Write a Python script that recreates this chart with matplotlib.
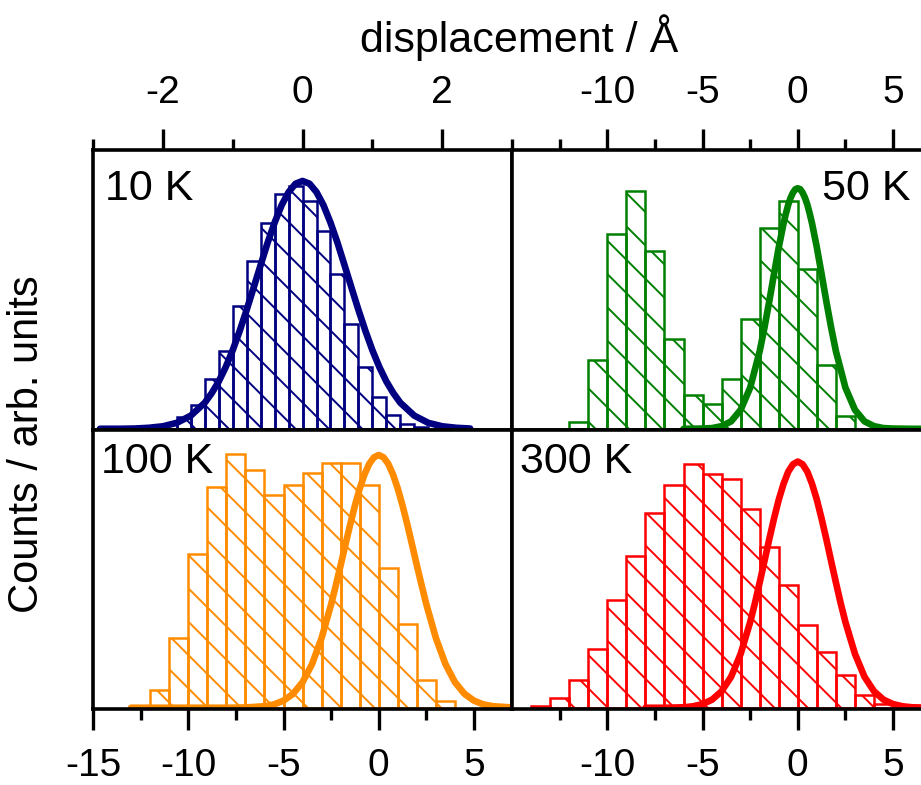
import matplotlib
matplotlib.use("Agg")
import matplotlib.pyplot as plt

plt.rcParams['font.family'] = ['Liberation Sans', 'DejaVu Sans']
plt.rcParams['axes.unicode_minus'] = False
plt.rcParams['hatch.linewidth'] = 1.4

# --- histogram data (bin left edges, heights normalised to fit peak) ---
edges_10K = [-2.0, -1.8, -1.6, -1.4, -1.2, -1.0, -0.8, -0.6, -0.4, -0.2,
             0.0, 0.2, 0.4, 0.6, 0.8, 1.0, 1.2, 1.4, 1.6]
counts_10K = [0.02, 0.047, 0.094, 0.20, 0.315, 0.497, 0.678, 0.832, 0.946, 0.98,
              0.92, 0.80, 0.624, 0.423, 0.248, 0.128, 0.054, 0.02, 0.007]

edges_50K = [-12, -11, -10, -9, -8, -7, -6, -5, -4, -3, -2, -1, 0, 1, 2]
counts_50K = [0.029, 0.287, 0.811, 0.99, 0.738, 0.374, 0.142, 0.105, 0.208,
              0.457, 0.834, 0.945, 0.666, 0.266, 0.052]

edges_100K = [-13, -12, -11, -10, -9, -8, -7, -6, -5, -4, -3, -2, -1, 0, 1, 2, 3]
counts_100K = [0.004, 0.072, 0.276, 0.608, 0.873, 1.004, 0.939, 0.843, 0.882,
               0.929, 0.967, 0.967, 0.88, 0.553, 0.333, 0.111, 0.027]

edges_300K = [-14, -13, -12, -11, -10, -9, -8, -7, -6, -5, -4, -3, -2, -1, 0, 1, 2, 3, 4]
counts_300K = [0.007, 0.040, 0.111, 0.239, 0.436, 0.615, 0.793, 0.906, 0.99, 0.95,
               0.93, 0.809, 0.651, 0.498, 0.336, 0.226, 0.132, 0.051, 0.015]

# --- fitted curves ---
fit_x_10K = [-2.9, -2.6, -2.4, -2.2, -2.0, -1.8, -1.6, -1.4, -1.3, -1.2, -1.1, -1.0,
             -0.9, -0.8, -0.7, -0.6, -0.5, -0.4, -0.3, -0.2, -0.1, 0.0,
             0.1, 0.2, 0.3, 0.4, 0.5, 0.6, 0.7, 0.8, 0.9, 1.0, 1.1, 1.2, 1.3,
             1.4, 1.6, 1.8, 2.0, 2.2, 2.4]
fit_y_10K = [0.0, 0.0, 0.001, 0.004, 0.010, 0.024, 0.053, 0.105, 0.144, 0.191, 0.249, 0.317,
             0.395, 0.480, 0.570, 0.661, 0.751, 0.832, 0.902, 0.955, 0.989, 1.0,
             0.989, 0.955, 0.902, 0.832, 0.751, 0.661, 0.570, 0.480, 0.395, 0.317, 0.249,
             0.191, 0.144, 0.105, 0.053, 0.024, 0.010, 0.004, 0.001]

fit_x_50K = [-6, -5, -4.5, -4, -3.5, -3, -2.5, -2, -1.75, -1.5, -1.25, -1, -0.75, -0.625,
             -0.5, -0.375, -0.25, -0.125, 0, 0.125, 0.25, 0.375, 0.5, 0.625, 0.75, 1,
             1.25, 1.5, 1.75, 2, 2.5, 3, 3.5, 4, 4.5, 5, 6, 7]
fit_y_50K = [0.0, 0.001, 0.003, 0.011, 0.031, 0.079, 0.171, 0.323, 0.421, 0.529, 0.643,
             0.754, 0.853, 0.895, 0.932, 0.961, 0.982, 0.996, 1.0, 0.996, 0.982, 0.961,
             0.932, 0.895, 0.853, 0.754, 0.643, 0.529, 0.421, 0.323, 0.171, 0.079, 0.031,
             0.011, 0.003, 0.001, 0.0, 0.0]

fit_x_100K = [-13, -10, -8, -7, -6, -5.5, -5, -4.5, -4, -3.5, -3, -2.5, -2.25, -2, -1.75,
              -1.5, -1.25, -1, -0.75, -0.5, -0.25, 0, 0.25, 0.5, 0.75, 1, 1.25, 1.5,
              1.75, 2, 2.25, 2.5, 3, 3.5, 4, 4.5, 5, 5.5, 6, 7]
fit_y_100K = [0.0, 0.0, 0.0, 0.001, 0.006, 0.013, 0.028, 0.055, 0.101, 0.173, 0.276,
              0.409, 0.485, 0.564, 0.645, 0.725, 0.800, 0.867, 0.923, 0.965, 0.991, 1.0,
              0.991, 0.965, 0.923, 0.867, 0.800, 0.725, 0.645, 0.564, 0.485, 0.409,
              0.276, 0.173, 0.101, 0.055, 0.028, 0.013, 0.006, 0.001]

fit_x_300K = [-8, -7, -6, -5.5, -5, -4.5, -4, -3.5, -3, -2.5, -2.25, -2, -1.75, -1.5,
              -1.25, -1, -0.75, -0.5, -0.25, 0, 0.25, 0.5, 0.75, 1, 1.25, 1.5, 1.75, 2,
              2.25, 2.5, 3, 3.5, 4, 4.5, 5, 5.5, 6, 7]
fit_y_300K = [0.0, 0.0, 0.002, 0.006, 0.015, 0.033, 0.067, 0.126, 0.219, 0.348, 0.425,
              0.509, 0.596, 0.684, 0.768, 0.845, 0.909, 0.959, 0.989, 1.0, 0.989, 0.959,
              0.909, 0.845, 0.768, 0.684, 0.596, 0.509, 0.425, 0.348, 0.219, 0.126,
              0.067, 0.033, 0.015, 0.006, 0.002, 0.0]

panels = [
    # label, edges, width, counts, fit x, fit y, colour, rect, xlim, ylim top
    ("10 K", edges_10K, 0.2, counts_10K, fit_x_10K, fit_y_10K, "#000080",
     [0.101, 0.4522, 0.455, 0.3567], (-3, 3), 1.125),
    ("50 K", edges_50K, 1.0, counts_50K, fit_x_50K, fit_y_50K, "#008000",
     [0.556, 0.4522, 0.455, 0.3567], (-15, 7), 1.159),
    ("100 K", edges_100K, 1.0, counts_100K, fit_x_100K, fit_y_100K, "#FF8C00",
     [0.101, 0.0968, 0.455, 0.3554], (-15, 7), 1.099),
    ("300 K", edges_300K, 1.0, counts_300K, fit_x_300K, fit_y_300K, "#FF0000",
     [0.556, 0.0968, 0.455, 0.3554], (-15, 7), 1.128),
]

fig = plt.figure(figsize=(9.21, 7.85), dpi=100)

for i, (label, edges, w, counts, fx, fy, col, rect, xlim, ytop) in enumerate(panels):
    ax = fig.add_axes(rect)
    ax.bar(edges, counts, width=w, align='edge', fill=False, hatch='\\',
           edgecolor=col, linewidth=1.8, zorder=2)
    ax.plot(fx, fy, color=col, linewidth=4.8, zorder=3, solid_capstyle='round',
            solid_joinstyle='round')
    ax.set_xlim(*xlim)
    ax.set_ylim(-0.005, ytop)
    ax.set_yticks([])
    for sp in ax.spines.values():
        sp.set_linewidth(2.6)
        sp.set_zorder(5)

    top_row = i < 2
    if i == 0:
        ax.set_xticks([-2, 0, 2])
        ax.set_xticks([-3, -1, 1, 3], minor=True)
    elif i == 2:
        ax.set_xticks([-15, -10, -5, 0, 5])
        ax.set_xticks([-12.5, -7.5, -2.5, 2.5], minor=True)
    else:
        ax.set_xticks([-10, -5, 0, 5])
        ax.set_xticks([-12.5, -7.5, -2.5, 2.5], minor=True)

    ax.tick_params(axis='x', which='both', direction='out', width=2.4,
                   top=top_row, labeltop=top_row,
                   bottom=not top_row, labelbottom=not top_row,
                   labelsize=28, pad=13)
    ax.tick_params(axis='x', which='major', length=15)
    ax.tick_params(axis='x', which='minor', length=8)

    if label == "50 K":
        ax.text(0.95, 0.821, label, transform=ax.transAxes, fontsize=31,
                ha='right', va='baseline')
    elif top_row:
        ax.text(0.029, 0.821, label, transform=ax.transAxes, fontsize=31,
                ha='left', va='baseline')
    else:
        ax.text(0.018, 0.846, label, transform=ax.transAxes, fontsize=31,
                ha='left', va='baseline')

fig.text(519 / 921, 1 - 51.7 / 785, "displacement / Å", fontsize=31,
         ha='center', va='baseline')
fig.text(27 / 921, 0.434, "Counts / arb. units", fontsize=30, rotation=90,
         ha='center', va='center')

fig.savefig("out.png", dpi=100)
